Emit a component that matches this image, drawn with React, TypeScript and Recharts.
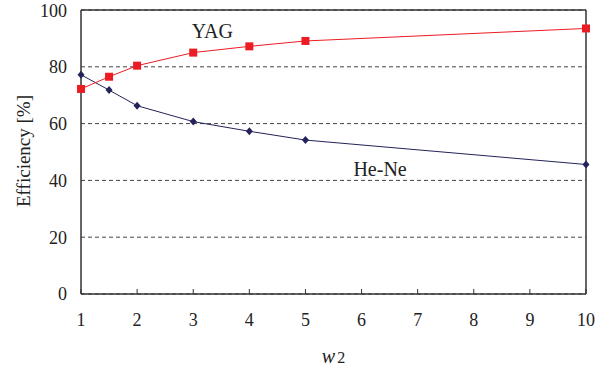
import React from "react";
import {
  LineChart,
  Line,
  XAxis,
  YAxis,
  CartesianGrid,
  ReferenceLine,
  ReferenceDot,
} from "recharts";

// w2 values and efficiencies
const w2Values = [1, 1.5, 2, 3, 4, 5, 10];
const yagEfficiency = [72.2, 76.5, 80.4, 85.0, 87.2, 89.1, 93.5];
const heneEfficiency = [77.2, 71.8, 66.3, 60.7, 57.3, 54.2, 45.6];
const xTicks = [1, 2, 3, 4, 5, 6, 7, 8, 9, 10];
const yTicks = [0, 20, 40, 60, 80, 100];

const data = w2Values.map((w, i) => ({
  w2: w,
  yag: yagEfficiency[i],
  hene: heneEfficiency[i],
}));

const FONT = "Liberation Serif, Times New Roman, serif";
const RED = "#ec1c24";
const NAVY = "#23235a";
const FRAME = "#333333";

function SquareDot(props: any) {
  const { cx, cy } = props;
  if (cx == null || cy == null) return null;
  return <rect x={cx - 4} y={cy - 4} width={8} height={8} fill={RED} />;
}

function DiamondDot(props: any) {
  const { cx, cy } = props;
  if (cx == null || cy == null) return null;
  return (
    <polygon
      points={`${cx},${cy - 4} ${cx + 3.5},${cy} ${cx},${cy + 4} ${cx - 3.5},${cy}`}
      fill={NAVY}
    />
  );
}

function XTitle(props: any) {
  const vb = props.viewBox || {};
  const cx = (vb.x ?? 0) + (vb.width ?? 0) / 2;
  return (
    <text x={cx} y={363} textAnchor="middle" fontFamily={FONT} fill="#222">
      <tspan fontStyle="italic" fontSize={20}>w</tspan>
      <tspan fontSize={16} dx={2}>2</tspan>
    </text>
  );
}

function YTitle() {
  return (
    <text
      x={23}
      y={151}
      transform="rotate(-90 23 151)"
      textAnchor="middle"
      dominantBaseline="central"
      fontFamily={FONT}
      fontSize={19}
      fill="#222"
    >
      Efficiency [%]
    </text>
  );
}

export default function App() {
  if (typeof document !== "undefined") document.body.style.margin = "0";
  return (
    <div style={{ width: 609, height: 371, background: "#fff", fontFamily: FONT }}>
      <LineChart
        width={609}
        height={371}
        data={data}
        margin={{ top: 10, right: 23, bottom: 0, left: 0 }}
        style={{ fontFamily: FONT }}
      >
        <CartesianGrid
          horizontal
          vertical={false}
          stroke="#444"
          strokeDasharray="4 3"
        />
        <XAxis
          dataKey="w2"
          type="number"
          domain={[1, 10]}
          ticks={xTicks}
          height={77}
          axisLine={{ stroke: FRAME, strokeWidth: 1.5 }}
          tickLine={{ stroke: FRAME }}
          tickSize={-5}
          tickMargin={24}
          tick={{ fontFamily: FONT, fontSize: 18, fill: "#222" }}
          label={<XTitle />}
        />
        <YAxis
          type="number"
          domain={[0, 100]}
          ticks={yTicks}
          width={81}
          axisLine={{ stroke: FRAME, strokeWidth: 1.5 }}
          tickLine={false}
          tickMargin={8}
          tick={{ fontFamily: FONT, fontSize: 18, fill: "#222" }}
          label={<YTitle />}
        />
        <ReferenceLine y={100} stroke={FRAME} strokeWidth={1.5} />
        <ReferenceLine x={10} stroke={FRAME} strokeWidth={1.5} />
        <Line
          dataKey="hene"
          stroke={NAVY}
          strokeWidth={1}
          dot={<DiamondDot />}
          activeDot={false}
          isAnimationActive={false}
        />
        <Line
          dataKey="yag"
          stroke={RED}
          strokeWidth={1}
          dot={<SquareDot />}
          activeDot={false}
          isAnimationActive={false}
        />
        <ReferenceDot
          x={3.34}
          y={92.5}
          r={0}
          label={{
            value: "YAG",
            position: "center",
            fontFamily: FONT,
            fontSize: 20,
            fill: "#222",
          }}
        />
        <ReferenceDot
          x={6.33}
          y={44}
          r={0}
          label={{
            value: "He-Ne",
            position: "center",
            fontFamily: FONT,
            fontSize: 20,
            fill: "#222",
          }}
        />
      </LineChart>
    </div>
  );
}
